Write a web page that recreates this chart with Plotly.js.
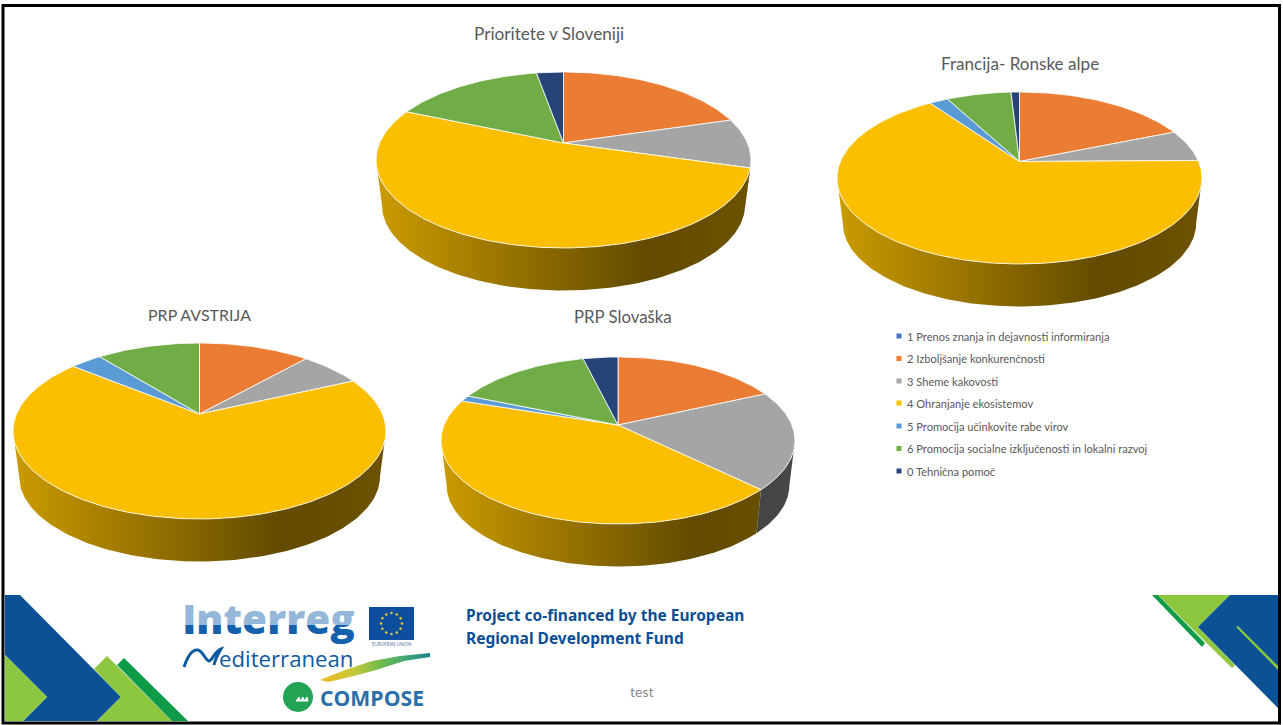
<!DOCTYPE html>
<html><head><meta charset="utf-8">
<script src="https://cdn.plot.ly/plotly-3.0.1.min.js"></script>
<style>html,body{margin:0;padding:0;background:#fff;overflow:hidden}#c{width:1283px;height:725px}</style>
</head><body><div id="c"></div>
<script>
// ---- data (percent shares) ----
const categories = ['1 Prenos znanja in dejavnosti informiranja','2 Izboljšanje konkurenčnosti','3 Sheme kakovosti','4 Ohranjanje ekosistemov','5 Promocija učinkovite rabe virov','6 Promocija socialne izključenosti in lokalni razvoj','0 Tehnična pomoč'];
const colors = ['#4472C4','#EB7C33','#A5A5A5','#FBBF00','#5B9BD5','#70AD47','#264478'];
const slovenija = [0, 20.4, 9.1, 52.0, 0, 15.7, 2.8];
const francija  = [0, 18.8, 6.0, 65.4, 2.0, 6.9, 0.9];
const avstrija  = [0, 11.6, 6.5, 67.8, 3.3, 10.8, 0];
const slovaska  = [0, 18.2, 19.1, 42.8, 1.2, 14.9, 3.8];
const pieTitles = ['Prioritete v Sloveniji','Francija- Ronske alpe','PRP AVSTRIJA','PRP Slovaška'];

// ---- layout of each drawn pie (page pixels) ----
const pies = [
 {vals:slovenija, cx:563.5, ay:143, top:72,  bot:248, rx:187.5, tx:548.5, ty:33, ts:17.2},
 {vals:francija,  cx:1019.5,ay:161.5,top:92, bot:264, rx:182.5, tx:1019.5,ty:63, ts:17.1},
 {vals:avstrija,  cx:199.5, ay:414, top:343, bot:519, rx:186.5, tx:199, ty:314, ts:16},
 {vals:slovaska,  cx:618,   ay:425, top:357, bot:524, rx:177,   tx:623, ty:316, ts:16.8}
];
const DEPTH = 42.5, SHRINK = 0.968;
const FONT = 'Lato, Carlito, Calibri, sans-serif';
const traces = [];

function shade(hex,f){
  const n=parseInt(hex.slice(1),16);
  return 'rgb('+[(n>>16)&255,(n>>8)&255,n&255].map(c=>Math.round(c*f)).join(',')+')';
}
pies.forEach((p)=>{
  // projective view of a circle: the centre lands on the apex, not the ellipse middle
  const up=p.ay-p.top, dn=p.bot-p.ay, r=dn/up, k=(r-1)/(r+1), B=up*(1+k), A=p.rx*Math.sqrt(1-k*k);
  const ay2=p.bot+DEPTH-SHRINK*B/(1-k);
  const pt=(deg,s,y0)=>{const t=deg*Math.PI/180,u=Math.sin(t),v=-Math.cos(t),w=1-k*v;return [p.cx+s*A*u/w,y0+s*B*v/w];};
  const total=p.vals.reduce((a,b)=>a+b,0);
  const vf=180-Math.acos(k)*180/Math.PI, vt=180+Math.acos(k)*180/Math.PI; // angles with v>=k
  let acc=0; const spans=[];
  p.vals.forEach((val,i)=>{const a=acc/total*360; acc+=val; spans.push([a,acc/total*360,i]);});
  // side wall first
  spans.forEach(([a,b,i])=>{
    const lo=Math.max(a,vf), hi=Math.min(b,vt);
    if(hi<=lo) return;
    const xs=[],ys=[];
    for(let d=lo;d<hi;d+=1){const q=pt(d,1,p.ay);xs.push(q[0]);ys.push(q[1]);}
    let q=pt(hi,1,p.ay);xs.push(q[0]);ys.push(q[1]);
    q=pt(hi,SHRINK,ay2);xs.push(q[0]);ys.push(q[1]);
    for(let d=hi;d>lo;d-=1){q=pt(d,SHRINK,ay2);xs.push(q[0]);ys.push(q[1]);}
    q=pt(lo,SHRINK,ay2);xs.push(q[0]);ys.push(q[1]);
    xs.push(xs[0]);ys.push(ys[0]);
    traces.push({type:'scatter',x:xs,y:ys,mode:'lines',fill:'toself',hoverinfo:'skip',showlegend:false,
      line:{color:'rgba(255,255,255,0)',width:0},
      fillgradient:{type:'horizontal',start:p.cx-p.rx,stop:p.cx+p.rx,
        colorscale:[[0,shade(colors[i],.81)],[.72,shade(colors[i],.39)],[1,shade(colors[i],.43)]]}});
  });
  // top face
  spans.forEach(([a,b,i])=>{
    if(b<=a) return;
    const xs=[p.cx],ys=[p.ay];
    for(let d=a;d<b;d+=1){const q=pt(d,1,p.ay);xs.push(q[0]);ys.push(q[1]);}
    const q=pt(b,1,p.ay);xs.push(q[0],p.cx);ys.push(q[1],p.ay);
    traces.push({type:'scatter',x:xs,y:ys,mode:'lines',fill:'toself',fillcolor:colors[i],name:categories[i],
      line:{color:'rgba(255,255,255,.8)',width:1},showlegend:false,hoverinfo:'name'});
  });
});

// key
const keyY=[336,358.5,381,403,426,448.5,471];
categories.forEach((c,i)=>{
  traces.push({type:'scatter',x:[899],y:[keyY[i]],mode:'markers',
    marker:{symbol:'square',size:5,color:colors[i]},showlegend:false,hoverinfo:'skip'});
});

// logo artwork
const blue='#0B5196', lime='#8DC63F', dgreen='#0E9B48';
const poly=(pts,col)=>({type:'path',path:'M'+pts.map(q=>q.join(',')).join('L')+'Z',fillcolor:col,line:{width:0},layer:'below'});
const shapes=[
 poly([[5,595],[20,595],[121,697],[97,721],[23,721],[47,697],[5,655]],blue),
 poly([[5,655],[47,697],[23,721],[5,721]],lime),
 poly([[94,669],[107,656],[172,721],[97,721],[121,697]],lime),
 poly([[117,665],[124,658],[188,721],[172,721]],dgreen),
 poly([[1152,595],[1158,595],[1205,643],[1202,647]],dgreen),
 poly([[1158,595],[1230,595],[1198,627],[1235,665],[1232,668]],lime),
 poly([[1230,595],[1278,595],[1278,708],[1198,627]],blue),
 poly([[1236,627],[1238,626],[1278,666],[1278,670]],lime),
 poly([[369,607],[414,607],[414,640],[369,640]],'#0E4E9E'),
 {type:'circle',x0:283,x1:313,y0:682,y1:712,fillcolor:'#23A455',line:{width:0},layer:'below'},
 {type:'path',path:'M184,667 C188,655 193,649 198,650 C203,651 205,660 209,661 C212,661 215,651 221,649 C218,654 215,660 214,665',fillcolor:'rgba(0,0,0,0)',line:{color:'#0D5AA0',width:3},layer:'below'},
 {type:'path',path:'M296,701 L299,697 L300,701 L303,697 L304,701 L307,697 L308,701 Z',fillcolor:'#fff',line:{color:'#fff',width:1},layer:'below'},
 // pale upper band of the Interreg lettering
 {type:'rect',x0:180,x1:358,y0:604,y1:625,fillcolor:'rgba(255,255,255,.55)',line:{width:0},layer:'above'},
 // frame
 {type:'rect',x0:3,x1:1279.5,y0:5.5,y1:723,line:{color:'#000',width:3},fillcolor:'rgba(0,0,0,0)',layer:'above'}
];
traces.push({type:'scatter',x:[268.5],y:[624],mode:'text',text:['Interreg'],textposition:'middle center',
  textfont:{family:'Open Sans, sans-serif',size:40.5,color:'#1460AC',weight:800},hoverinfo:'skip',showlegend:false});
// EU flag stars
const starAng=[0,30,60,90,120,150,180,210,240,270,300,330];
traces.push({type:'scatter',x:starAng.map(a=>391.5+10.5*Math.sin(a*Math.PI/180)),y:starAng.map(a=>623.5-10.5*Math.cos(a*Math.PI/180)),
  mode:'markers',marker:{size:2.5,color:'#E8CF2A'},hoverinfo:'skip',showlegend:false});
// brush stroke
traces.push({type:'scatter',x:[320,345,372,400,430,430,404,376,350,328,320],y:[680,670,661,656,653,657,661,670,677,682,680],
  mode:'lines',fill:'toself',line:{width:0,color:'rgba(0,0,0,0)'},hoverinfo:'skip',showlegend:false,
  fillgradient:{type:'horizontal',start:320,stop:430,colorscale:[[0,'#F2B81E'],[.3,'#C8C93A'],[.55,'#6FBA4A'],[.8,'#3FA57A'],[1,'#1D7F8E']]}});

const ann=(x,y,t,size,col,fam,extra)=>Object.assign({x,y,text:t,xref:'x',yref:'y',showarrow:false,xanchor:'center',yanchor:'middle',
  font:{family:fam||FONT,size,color:col}},extra||{});
const annotations=pies.map((p,i)=>ann(p.tx,p.ty,pieTitles[i],p.ts,'#595959'));
categories.forEach((c,i)=>annotations.push(ann(904.5,keyY[i],c,11.1,'#595959',FONT,{xanchor:'left'})));
const NS='Noto Sans, Open Sans, sans-serif';
annotations.push(
 ann(464,615,'<b>Project co-financed by the European</b>',15.5,'#0D4F94',NS,{xanchor:'left'}),
 ann(464,638,'<b>Regional Development Fund</b>',15.5,'#0D4F94',NS,{xanchor:'left'}),
 ann(641.5,691.5,'test',14,'#898989',FONT),
 ann(217,658.5,'editerranean',22.2,'#0D5AA0','Open Sans, sans-serif',{xanchor:'left'}),
 ann(318,697,'<b>COMPOSE</b>',21.2,'#2A6FA8','Open Sans, sans-serif',{xanchor:'left'}),
 ann(391.5,644,'EUROPEAN UNION',4.5,'#4A6F9E','Open Sans, sans-serif')
);

Plotly.newPlot('c',traces,{
  width:1283,height:725,autosize:false,margin:{l:0,r:0,t:0,b:0},
  paper_bgcolor:'#fff',plot_bgcolor:'#fff',showlegend:false,
  xaxis:{range:[0,1283],visible:false,fixedrange:true},
  yaxis:{range:[725,0],visible:false,fixedrange:true},
  shapes,annotations
},{displayModeBar:false,staticPlot:true});
</script></body></html>
